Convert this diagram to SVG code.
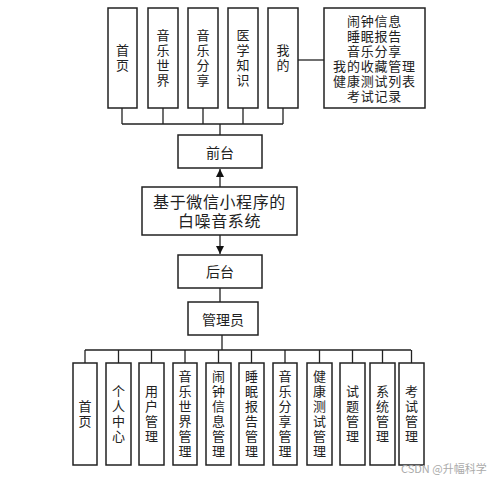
<svg xmlns="http://www.w3.org/2000/svg" width="499" height="480" viewBox="0 0 499 480">
<style>
rect{fill:#fff;stroke:#222;stroke-width:1.5}
text{font-family:"Noto Sans CJK SC","Noto Sans",sans-serif;fill:#222;text-anchor:middle;dominant-baseline:central}
.v{font-size:13px;writing-mode:vertical-rl;letter-spacing:2px}
.s{font-size:13px;font-family:"Liberation Sans","Noto Sans CJK SC",sans-serif}
.m{font-size:14px}
.l{font-size:16px;font-family:"Liberation Sans","Noto Sans CJK SC",sans-serif}
.w{font-size:11px;fill:#aaa;text-anchor:start}
.c{fill:none;stroke:#222;stroke-width:1.3}
</style>
<defs>
<marker id="ah" viewBox="0 0 10 10" refX="10" refY="5" markerWidth="8" markerHeight="8" markerUnits="userSpaceOnUse" orient="auto"><path d="M0,0 L10,5 L0,10 z" fill="#111"/></marker>
</defs>
<rect width="499" height="480" style="fill:#fff;stroke:none"/>
<g id="connectors">
<path class="c" d="M122,108V124M163,108V124M203,108V124M243,108V124M283,108V124M122,124H283M220,124V135"/>
<path class="c" d="M298,60H324"/>
<path class="c" d="M220,187V169" marker-end="url(#ah)"/>
<path class="c" d="M220,235V254" marker-end="url(#ah)"/>
<path class="c" d="M220,288V302M222,335V350M85,350H411"/>
<path class="c" d="M85,350V363M118.5,350V363M151.5,350V363M185,350V363M218.5,350V363M251.5,350V363M285,350V363M319.5,350V363M352.5,350V363M382.5,350V363M411.5,350V363"/>
</g>
<g id="t1"><rect x="108" y="8" width="29" height="100"/><text class="v" x="122.5" y="59">首页</text></g>
<g id="t2"><rect x="148" y="8" width="30" height="100"/><text class="v" x="163" y="59">音乐世界</text></g>
<g id="t3"><rect x="188" y="8" width="30" height="100"/><text class="v" x="203" y="59">音乐分享</text></g>
<g id="t4"><rect x="228" y="8" width="30" height="100"/><text class="v" x="243" y="59">医学知识</text></g>
<g id="t5"><rect x="268" y="8" width="30" height="100"/><text class="v" x="283" y="59">我的</text></g>
<g id="t6"><rect x="324" y="8" width="101" height="100"/><text class="s" letter-spacing="0.8"><tspan x="374.5" y="21">闹钟信息</tspan><tspan x="374.5" y="36">睡眠报告</tspan><tspan x="374.5" y="51">音乐分享</tspan><tspan x="374.5" y="66">我的收藏管理</tspan><tspan x="374.5" y="81">健康测试列表</tspan><tspan x="374.5" y="96">考试记录</tspan></text></g>
<g id="front"><rect x="178" y="135" width="84" height="33"/><text class="m" x="220" y="152">前台</text></g>
<g id="main"><rect x="142" y="187" width="155" height="48"/><text class="l" letter-spacing="0.6"><tspan x="219.5" y="201.5">基于微信小程序的</tspan><tspan x="219.5" y="220.5">白噪音系统</tspan></text></g>
<g id="back"><rect x="178" y="255" width="84" height="33"/><text class="m" x="220" y="271">后台</text></g>
<g id="admin"><rect x="188" y="302" width="70" height="33"/><text class="m" x="223" y="319">管理员</text></g>
<g id="b1"><rect x="73" y="363" width="24" height="102"/><text class="v" x="85" y="415">首页</text></g>
<g id="b2"><rect x="106" y="363" width="25" height="102"/><text class="v" x="118.5" y="415">个人中心</text></g>
<g id="b3"><rect x="139" y="363" width="25" height="102"/><text class="v" x="151.5" y="415">用户管理</text></g>
<g id="b4"><rect x="173" y="363" width="24" height="102"/><text class="v" x="185" y="415">音乐世界管理</text></g>
<g id="b5"><rect x="206" y="363" width="25" height="102"/><text class="v" x="218.5" y="415">闹钟信息管理</text></g>
<g id="b6"><rect x="239" y="363" width="25" height="102"/><text class="v" x="251.5" y="415">睡眠报告管理</text></g>
<g id="b7"><rect x="273" y="363" width="24" height="102"/><text class="v" x="285" y="415">音乐分享管理</text></g>
<g id="b8"><rect x="307" y="363" width="25" height="102"/><text class="v" x="319.5" y="415">健康测试管理</text></g>
<g id="b9"><rect x="340" y="363" width="25" height="102"/><text class="v" x="352.5" y="415">试题管理</text></g>
<g id="b10"><rect x="370" y="363" width="25" height="102"/><text class="v" x="382.5" y="415">系统管理</text></g>
<g id="b11"><rect x="399" y="363" width="25" height="102"/><text class="v" x="411.5" y="415">考试管理</text></g>
<text class="w" x="401" y="468">CSDN @升幅科学</text>
</svg>
